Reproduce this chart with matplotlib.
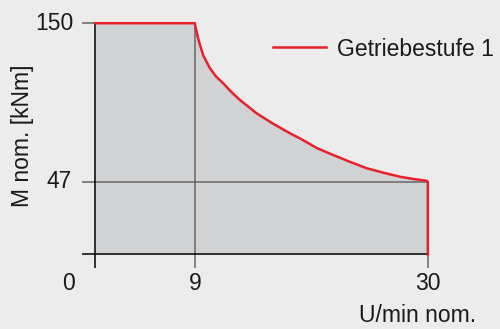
import matplotlib.pyplot as plt

# Drehzahl U/min und Drehmoment kNm
drehzahl = [0, 9, 9.05, 9.16, 9.3, 9.46, 9.76, 10.36, 10.9, 11.56, 12.3, 13.06, 14.56,
            15.3, 16, 17.57, 18.47, 20, 21.47, 23, 24.5, 26, 27.5, 28.8, 29.9, 30, 30]
moment = [150, 150, 147.5, 144.5, 140, 136, 129, 120.8, 115.5, 111, 105.3, 100.2, 91.6,
          88.2, 85, 78.6, 75.3, 69, 64.5, 60, 55.9, 53, 50.4, 48.8, 47.8, 47, 0]

x_ticks = [0, 9, 30]
y_ticks = [47, 150]

bg = '#ececec'
red = '#e8202a'
grey = '#666666'

plt.rcParams['font.family'] = ['Liberation Sans', 'DejaVu Sans']

fig = plt.figure(figsize=(5, 3.29), dpi=100, facecolor=bg)
ax = fig.add_axes([0.1634, 0.1845, 0.7366, 0.7684])
ax.set_facecolor(bg)
ax.set_xlim(-1.2, 32)
ax.set_ylim(-9, 155)
ax.axis('off')

# Flaeche unter der Kennlinie
ax.fill_between(drehzahl, moment, 0, color='#d1d2d4', lw=0, zorder=1)

# Hilfslinien
ax.plot([x_ticks[1], x_ticks[1]], [-9, y_ticks[1]], color=grey, lw=1.1, zorder=2)
ax.plot([-1.2, x_ticks[2]], [y_ticks[0], y_ticks[0]], color=grey, lw=1.1, zorder=2)
ax.plot([-1.2, 0], [y_ticks[1], y_ticks[1]], color=grey, lw=1.1, zorder=2)
ax.plot([x_ticks[2], x_ticks[2]], [-9, 0], color=grey, lw=1.1, zorder=2)

# Achsen
ax.plot([-1.2, x_ticks[2]], [0, 0], color='black', lw=1.1, zorder=3)
ax.plot([0, 0], [-9, y_ticks[1]], color='black', lw=1.1, zorder=3)

ax.plot(drehzahl, moment, color=red, lw=1.8, zorder=4, label='Getriebestufe 1',
        solid_joinstyle='round')

fs = 16.5
tc = '#1a1a1a'
ax.text(-1.98, 150, '150', ha='right', va='center', fontsize=fs, color=tc)
ax.text(-2.07, 47, '47', ha='right', va='center', fontsize=fs, color=tc)
ax.text(-2.43, -18.6, '0', ha='center', va='center', fontsize=fs, color=tc)
ax.text(9, -18.6, '9', ha='center', va='center', fontsize=fs, color=tc)
ax.text(30, -18.6, '30', ha='center', va='center', fontsize=fs, color=tc)
ax.text(29.1, -39.3, 'U/min nom.', ha='center', va='center', fontsize=fs, color=tc)
ax.text(-6.58, 76.9, 'M nom. [kNm]', ha='center', va='center', rotation=90,
        fontsize=fs, color=tc)

ax.legend(loc='center left', bbox_to_anchor=(273 / 500, 1 - 49 / 329),
          bbox_transform=fig.transFigure, frameon=False, fontsize=fs,
          borderpad=0, borderaxespad=0, handlelength=2.3, handletextpad=0.5,
          labelcolor=tc)

plt.savefig('out.png', dpi=100, facecolor=bg)
